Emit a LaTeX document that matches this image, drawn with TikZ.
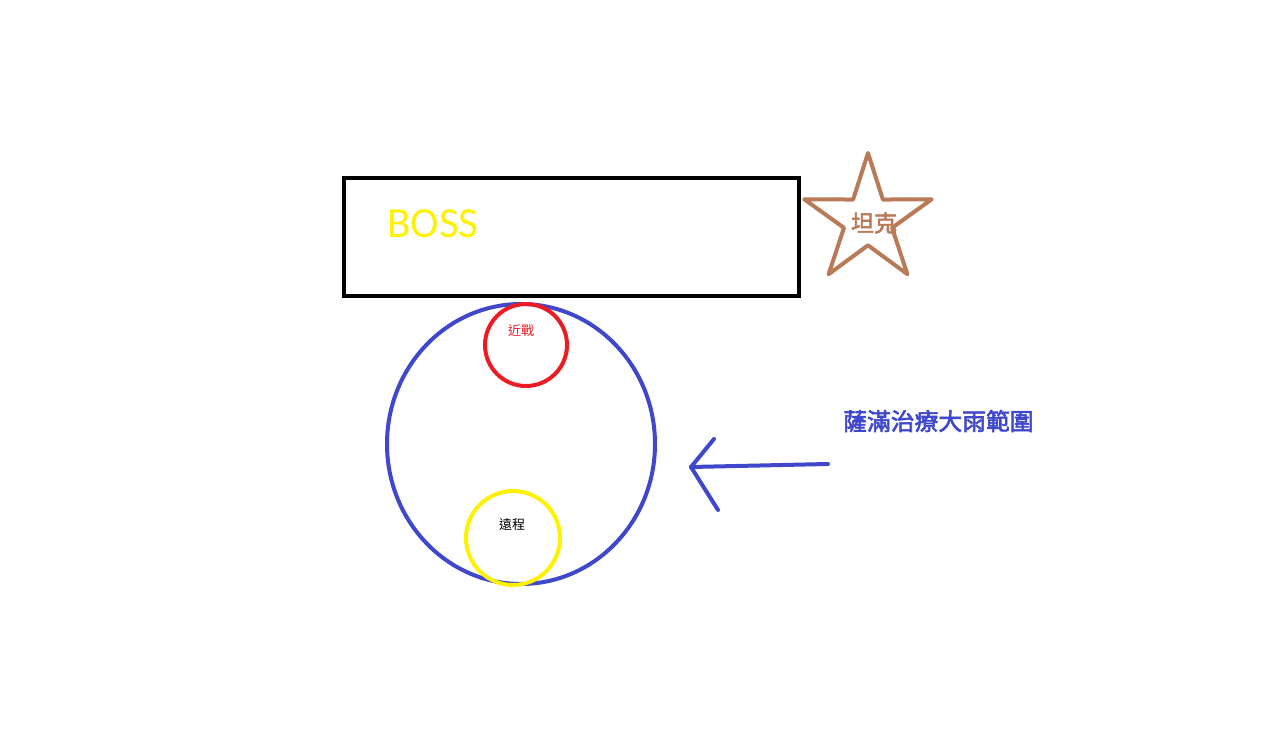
\documentclass[tikz,border=0pt]{standalone}
\usepackage{fontspec}
\setmainfont{Carlito}
\newfontfamily\cjk{Noto Sans CJK TC}[AutoFakeBold=2.5]
\usetikzlibrary{shapes.geometric}
\usetikzlibrary{positioning}

\definecolor{paintblue}{RGB}{63,72,204}
\definecolor{paintred}{RGB}{237,28,36}
\definecolor{paintyellow}{RGB}{255,242,0}
\definecolor{paintbrown}{RGB}{185,122,87}

\tikzset{
  stroke/.style={line width=4pt, line cap=round, line join=round},
  smalltext/.style={font=\cjk\fontsize{13}{13}\selectfont, inner sep=0pt}
}

\begin{document}
\begin{tikzpicture}[x=1pt, y=-1pt]

  \useasboundingbox (0,0) rectangle (1286,743);

 %boss
  \draw[stroke, line cap=butt, line join=miter] (344,178) rectangle (799,296);
  \node[paintyellow, font=\fontsize{43}{43}\selectfont, inner sep=0pt] (boss) at (433,224) {BOSS};

 %tank
  \node[star, star points=5, star point ratio=2.65, minimum size=134pt, inner sep=0pt,
        draw=paintbrown, line width=4pt, line join=round] (tankstar) at (868,220) {};
  \node[paintbrown, font=\cjk\bfseries\fontsize{23}{23}\selectfont, inner sep=0pt] (tank) at (874,223) {坦克};

 %rain area
  \draw[stroke, paintblue] (521,444) ellipse (134 and 140);

 %melee
  \draw[stroke, paintred] (526,345) circle (41);
  \node[smalltext, paintred] (melee) at (521,331) {近戰};

 %ranged
  \draw[stroke, paintyellow] (513,538) circle (47);
  \node[smalltext] (ranged) at (512,525) {遠程};

 %arrow
  \coordinate (tail) at (828,464);
  \coordinate (tip) at (691,467);
  \coordinate (barbup) at (714,439);
  \coordinate (barbdown) at (718,510);
  \draw[stroke, paintblue] (tail) -- (tip);
  \foreach \b in {barbup, barbdown} {
     \draw[stroke, paintblue] (tip) -- (\b);
  }
  \node[paintblue, font=\cjk\bfseries\fontsize{23.8}{24}\selectfont, anchor=west, inner sep=0pt] (rainlabel) at (843,421) {薩滿治療大雨範圍};

\end{tikzpicture}
\end{document}
